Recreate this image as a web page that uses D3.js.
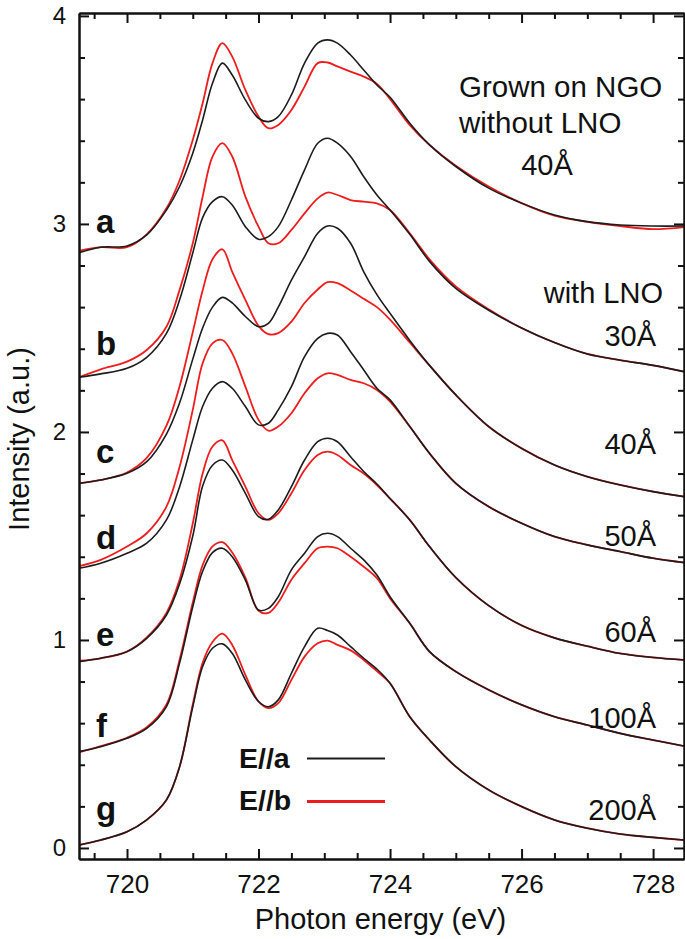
<!DOCTYPE html>
<html><head><meta charset="utf-8">
<script src="https://cdn.jsdelivr.net/npm/d3@7"></script>
<style>
body{margin:0;background:#fff;}
svg{display:block;}
text{font-family:"Liberation Sans", Arial, Helvetica, sans-serif;fill:#111;}
</style>
</head><body>
<svg id="chart" width="685" height="939"></svg>
<script>
// ---------- data ----------
const energy = [719.27, 719.6, 720.0, 720.3, 720.6, 720.8, 721.0, 721.15, 721.3, 721.45, 721.6, 721.8, 722.0, 722.15, 722.3, 722.5, 722.7, 722.9, 723.05, 723.2, 723.4, 723.6, 723.8, 724.0, 724.3, 724.6, 725.0, 725.5, 726.0, 726.5, 727.0, 727.5, 728.0, 728.47];

const aBlack = [2.862, 2.888, 2.894, 2.947, 3.067, 3.18, 3.34, 3.50, 3.676, 3.773, 3.716, 3.596, 3.508, 3.492, 3.516, 3.62, 3.773, 3.869, 3.885, 3.869, 3.812, 3.740, 3.668, 3.609, 3.484, 3.38, 3.276, 3.172, 3.10, 3.043, 3.011, 2.995, 2.99, 2.99];
const aRed   = [2.87, 2.888, 2.888, 2.95, 3.075, 3.21, 3.404, 3.58, 3.773, 3.869, 3.804, 3.644, 3.516, 3.46, 3.476, 3.548, 3.66, 3.773, 3.776, 3.757, 3.732, 3.708, 3.673, 3.60, 3.475, 3.38, 3.28, 3.18, 3.10, 3.04, 3.01, 2.99, 2.975, 2.985];

const bBlack = [2.263, 2.279, 2.306, 2.359, 2.474, 2.635, 2.86, 3.03, 3.107, 3.131, 3.091, 2.987, 2.926, 2.939, 2.987, 3.115, 3.26, 3.388, 3.412, 3.388, 3.324, 3.227, 3.139, 3.067, 2.95, 2.82, 2.69, 2.585, 2.50, 2.43, 2.375, 2.345, 2.32, 2.29];
const bRed   = [2.263, 2.301, 2.338, 2.394, 2.506, 2.683, 2.907, 3.131, 3.324, 3.388, 3.324, 3.131, 2.987, 2.907, 2.907, 2.971, 3.051, 3.123, 3.151, 3.139, 3.115, 3.107, 3.099, 3.067, 2.955, 2.83, 2.70, 2.59, 2.50, 2.43, 2.375, 2.345, 2.32, 2.29];

const cBlack = [1.753, 1.769, 1.801, 1.857, 1.99, 2.14, 2.35, 2.50, 2.60, 2.647, 2.62, 2.555, 2.506, 2.522, 2.60, 2.73, 2.843, 2.955, 2.99, 2.979, 2.907, 2.77, 2.66, 2.57, 2.44, 2.32, 2.178, 2.026, 1.921, 1.841, 1.785, 1.745, 1.713, 1.689];
const cRed   = [1.753, 1.769, 1.805, 1.875, 2.03, 2.22, 2.48, 2.68, 2.83, 2.878, 2.77, 2.635, 2.51, 2.47, 2.475, 2.53, 2.62, 2.685, 2.72, 2.715, 2.68, 2.64, 2.60, 2.54, 2.43, 2.32, 2.178, 2.026, 1.921, 1.841, 1.785, 1.745, 1.713, 1.689];

const dBlack = [1.345, 1.369, 1.417, 1.465, 1.577, 1.737, 1.962, 2.122, 2.21, 2.242, 2.21, 2.122, 2.034, 2.042, 2.106, 2.218, 2.362, 2.45, 2.474, 2.466, 2.386, 2.298, 2.21, 2.154, 2.026, 1.897, 1.753, 1.641, 1.561, 1.497, 1.457, 1.425, 1.393, 1.372];
const dRed   = [1.355, 1.385, 1.449, 1.513, 1.641, 1.833, 2.106, 2.33, 2.426, 2.442, 2.378, 2.218, 2.058, 2.006, 2.026, 2.09, 2.186, 2.258, 2.282, 2.274, 2.25, 2.234, 2.202, 2.146, 2.026, 1.897, 1.753, 1.641, 1.561, 1.497, 1.457, 1.425, 1.393, 1.372];

const eBlack = [0.896, 0.912, 0.944, 1.008, 1.12, 1.27, 1.50, 1.74, 1.84, 1.865, 1.817, 1.705, 1.593, 1.58, 1.625, 1.737, 1.865, 1.953, 1.97, 1.953, 1.881, 1.81, 1.75, 1.68, 1.577, 1.449, 1.30, 1.165, 1.07, 1.01, 0.97, 0.935, 0.916, 0.904];
const eRed   = [0.90, 0.912, 0.944, 1.012, 1.13, 1.29, 1.56, 1.80, 1.93, 1.96, 1.865, 1.737, 1.609, 1.577, 1.609, 1.705, 1.817, 1.889, 1.905, 1.889, 1.841, 1.80, 1.745, 1.68, 1.577, 1.449, 1.30, 1.165, 1.07, 1.01, 0.97, 0.935, 0.916, 0.904];

const fBlack = [0.463, 0.487, 0.527, 0.575, 0.68, 0.89, 1.16, 1.33, 1.42, 1.441, 1.40, 1.288, 1.144, 1.152, 1.208, 1.337, 1.417, 1.497, 1.513, 1.497, 1.441, 1.385, 1.312, 1.208, 1.08, 0.944, 0.848, 0.76, 0.688, 0.631, 0.591, 0.551, 0.519, 0.49];
const fRed   = [0.46, 0.49, 0.53, 0.58, 0.69, 0.905, 1.18, 1.36, 1.45, 1.47, 1.42, 1.30, 1.14, 1.13, 1.18, 1.29, 1.369, 1.441, 1.449, 1.441, 1.40, 1.352, 1.297, 1.20, 1.08, 0.944, 0.848, 0.76, 0.688, 0.631, 0.591, 0.551, 0.519, 0.49];

const gBlack = [0.014, 0.038, 0.078, 0.135, 0.231, 0.391, 0.679, 0.872, 0.96, 0.981, 0.936, 0.808, 0.704, 0.679, 0.712, 0.84, 0.968, 1.056, 1.045, 1.024, 0.968, 0.912, 0.86, 0.792, 0.631, 0.519, 0.391, 0.279, 0.199, 0.135, 0.095, 0.067, 0.051, 0.038];
const gRed   = [0.014, 0.038, 0.078, 0.135, 0.231, 0.391, 0.69, 0.89, 0.99, 1.03, 0.976, 0.832, 0.704, 0.672, 0.696, 0.808, 0.92, 0.984, 0.997, 0.976, 0.95, 0.904, 0.85, 0.792, 0.631, 0.519, 0.391, 0.279, 0.199, 0.135, 0.095, 0.067, 0.051, 0.038];

const sampleLetters = ["a", "b", "c", "d", "e", "f", "g"];
const letterLevels = [2.957, 2.370, 1.851, 1.438, 0.972, 0.534, 0.135];
const thicknessLabels = ["30Å", "40Å", "50Å", "60Å", "100Å", "200Å"];
const thicknessLevels = [2.413, 1.894, 1.452, 0.992, 0.577, 0.135];
const headerLines = ["Grown on NGO", "without LNO"];
const headerThickness = "40Å";
const withLabel = "with LNO";

const xMajor = [720, 722, 724, 726, 728];
const xTickLabels = ["720", "722", "724", "726", "728"];
const xMinor = [719.5, 720.5, 721, 721.5, 722.5, 723, 723.5, 724.5, 725, 725.5, 726.5, 727, 727.5, 728.5];
const yMajor = [0, 1, 2, 3, 4];
const yTickLabels = ["0", "1", "2", "3", "4"];
const yMinor = [0.2, 0.4, 0.6, 0.8, 1.2, 1.4, 1.6, 1.8, 2.2, 2.4, 2.6, 2.8, 3.2, 3.4, 3.6, 3.8];

const legendNames = ["E//a", "E//b"];

// ---------- layout ----------
const svg = d3.select("#chart");
const pLeft = 79, pRight = 684, pTop = 13, pBottom = 859;
const x = d3.scaleLinear().domain([719.27, 728.47]).range([pLeft, pRight]);
const y = d3.scaleLinear().domain([-0.053, 4.014]).range([pBottom, pTop]);

const BLACK = "#1c1c1c", RED = "#ee1c1c";

const pairs = [
  [aBlack, aRed], [bBlack, bRed], [cBlack, cRed], [dBlack, dRed],
  [eBlack, eRed], [fBlack, fRed], [gBlack, gRed]
];
const line = d3.line().x((d, i) => x(energy[i])).y(d => y(d)).curve(d3.curveCatmullRom.alpha(0.5));

svg.append("clipPath").attr("id", "plotclip").append("rect")
  .attr("x", pLeft).attr("y", pTop).attr("width", pRight - pLeft).attr("height", pBottom - pTop);

const curves = svg.append("g").attr("clip-path", "url(#plotclip)");
pairs.forEach(([blk, red]) => {
  curves.append("path").datum(red).attr("d", line)
    .attr("fill", "none").attr("stroke", RED).attr("stroke-width", 1.8).attr("stroke-linejoin", "round");
  curves.append("path").datum(blk).attr("d", line)
    .attr("fill", "none").attr("stroke", BLACK).attr("stroke-width", 1.6).attr("stroke-linejoin", "round");
});

function styleAxis(g) {
  g.selectAll(".domain").attr("stroke", "#111").attr("stroke-width", 2);
  g.selectAll(".tick line").attr("stroke", "#111").attr("stroke-width", 2);
}
const bottomAxis = svg.append("g").attr("transform", `translate(0,${pBottom})`)
  .call(d3.axisBottom(x).tickValues(xMajor).tickFormat((d, i) => xTickLabels[i]).tickSizeInner(-10).tickSizeOuter(0).tickPadding(16));
bottomAxis.selectAll("text").attr("font-size", 26).attr("fill", "#111");
styleAxis(bottomAxis);
const bottomMinor = svg.append("g").attr("transform", `translate(0,${pBottom})`)
  .call(d3.axisBottom(x).tickValues(xMinor).tickFormat("").tickSizeInner(-6).tickSizeOuter(0));
styleAxis(bottomMinor);

const topAxis = svg.append("g").attr("transform", `translate(0,${pTop})`)
  .call(d3.axisTop(x).tickValues(xMajor).tickFormat("").tickSizeInner(-10).tickSizeOuter(0));
styleAxis(topAxis);
const topMinor = svg.append("g").attr("transform", `translate(0,${pTop})`)
  .call(d3.axisTop(x).tickValues(xMinor).tickFormat("").tickSizeInner(-6).tickSizeOuter(0));
styleAxis(topMinor);

const leftAxis = svg.append("g").attr("transform", `translate(${pLeft},0)`)
  .call(d3.axisLeft(y).tickValues(yMajor).tickFormat((d, i) => yTickLabels[i]).tickSizeInner(-10).tickSizeOuter(0).tickPadding(13));
leftAxis.selectAll("text").attr("font-size", 24).attr("fill", "#111");
styleAxis(leftAxis);
const leftMinor = svg.append("g").attr("transform", `translate(${pLeft},0)`)
  .call(d3.axisLeft(y).tickValues(yMinor).tickFormat("").tickSizeInner(-6).tickSizeOuter(0));
styleAxis(leftMinor);

const rightAxis = svg.append("g").attr("transform", `translate(${pRight},0)`)
  .call(d3.axisRight(y).tickValues(yMajor).tickFormat("").tickSizeInner(-10).tickSizeOuter(0));
styleAxis(rightAxis);
const rightMinor = svg.append("g").attr("transform", `translate(${pRight},0)`)
  .call(d3.axisRight(y).tickValues(yMinor).tickFormat("").tickSizeInner(-6).tickSizeOuter(0));
styleAxis(rightMinor);

svg.append("text").attr("x", 380.5).attr("y", 929).attr("text-anchor", "middle")
  .attr("font-size", 29).text("Photon energy (eV)");
svg.append("text").attr("transform", "translate(29,439) rotate(-90)").attr("text-anchor", "middle")
  .attr("font-size", 29).text("Intensity (a.u.)");

svg.append("g").selectAll("text").data(sampleLetters).join("text")
  .attr("x", 96).attr("y", (d, i) => y(letterLevels[i]))
  .attr("font-size", 33).attr("font-weight", "bold").text(d => d);

svg.append("text").attr("x", 459).attr("y", 97).attr("font-size", 29.5).text(headerLines[0]);
svg.append("text").attr("x", 459).attr("y", 133).attr("font-size", 29.5).text(headerLines[1]);
svg.append("text").attr("x", 547).attr("y", 175).attr("text-anchor", "middle").attr("font-size", 29).text(headerThickness);
svg.append("text").attr("x", 663).attr("y", 303).attr("text-anchor", "end").attr("font-size", 29).text(withLabel);

svg.append("g").selectAll("text").data(thicknessLabels).join("text")
  .attr("x", 656).attr("y", (d, i) => y(thicknessLevels[i]))
  .attr("text-anchor", "end").attr("font-size", 29).text(d => d);

const legend = svg.append("g");
[[BLACK, 2, 758.5, 768], [RED, 3, 801.5, 810]].forEach(([c, w, ly, ty], i) => {
  legend.append("text").attr("x", 239).attr("y", ty).attr("font-size", 28.5).attr("font-weight", "bold").text(legendNames[i]);
  legend.append("line").attr("x1", 307).attr("x2", 385).attr("y1", ly).attr("y2", ly)
    .attr("stroke", c).attr("stroke-width", w);
});
</script>
</body></html>
